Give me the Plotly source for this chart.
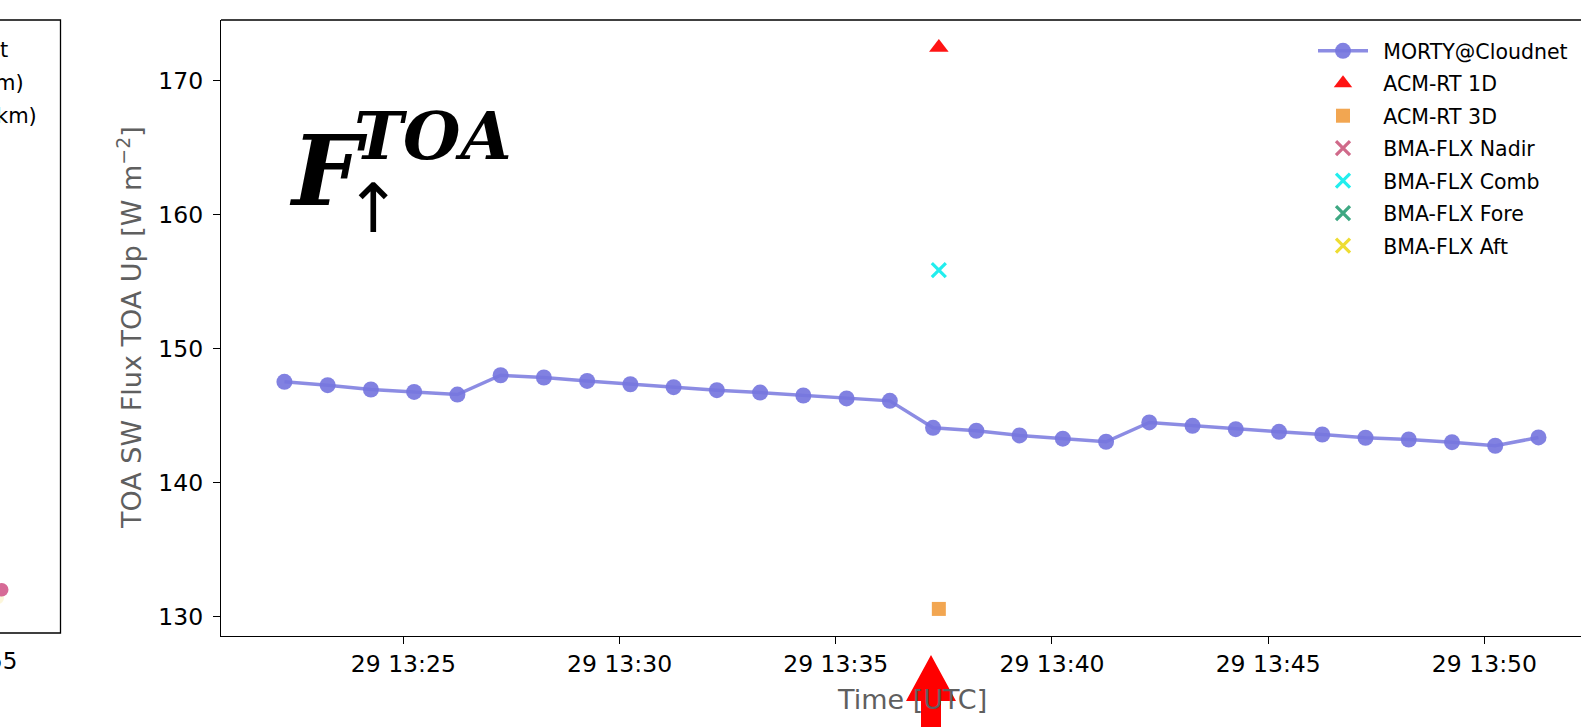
import plotly.graph_objects as go

# ---------------- data ----------------
times = [
    "2024-11-29 13:22:15", "2024-11-29 13:23:15", "2024-11-29 13:24:15", "2024-11-29 13:25:15",
    "2024-11-29 13:26:15", "2024-11-29 13:27:15", "2024-11-29 13:28:15", "2024-11-29 13:29:15",
    "2024-11-29 13:30:15", "2024-11-29 13:31:15", "2024-11-29 13:32:15", "2024-11-29 13:33:15",
    "2024-11-29 13:34:15", "2024-11-29 13:35:15", "2024-11-29 13:36:15", "2024-11-29 13:37:15",
    "2024-11-29 13:38:15", "2024-11-29 13:39:15", "2024-11-29 13:40:15", "2024-11-29 13:41:15",
    "2024-11-29 13:42:15", "2024-11-29 13:43:15", "2024-11-29 13:44:15", "2024-11-29 13:45:15",
    "2024-11-29 13:46:15", "2024-11-29 13:47:15", "2024-11-29 13:48:15", "2024-11-29 13:49:15",
    "2024-11-29 13:50:15", "2024-11-29 13:51:15",
]
morty_flux = [
    147.54, 147.29, 146.97, 146.79, 146.59, 148.03, 147.86, 147.61, 147.36, 147.14,
    146.92, 146.74, 146.52, 146.30, 146.12, 144.11, 143.89, 143.54, 143.30, 143.07,
    144.51, 144.26, 144.01, 143.81, 143.61, 143.37, 143.24, 143.04, 142.77, 143.39,
]
overpass_time = ["2024-11-29 13:37:23"]
acm_rt_1d = [172.48]
acm_rt_3d = [130.60]
bma_flx_nadir = [None]
bma_flx_comb = [155.87]
bma_flx_fore = [None]
bma_flx_aft = [None]

x_range = ["2024-11-29 13:20:47", "2024-11-29 13:52:14"]
y_range = [128.58, 174.53]
y_ticks = [130, 140, 150, 160, 170]

# ---------------- layout helpers (pixel -> paper) ----------------
W, H = 1581, 727
L, T, R, B = 221, 20, 1581, 636


def px(x):
    return (x - L) / (R - L)


def py(y):
    return (B - y) / (B - T)


GRAY = "#5f5f5f"
FONT = "DejaVu Sans"
SP = "\u2002"

fig = go.Figure()

fig.add_trace(go.Scatter(
    x=times, y=morty_flux, mode="lines+markers", name=SP + "MORTY@Cloudnet", legendgroup="g1",
    line=dict(color="rgba(120,120,222,0.85)", width=3.5),
    marker=dict(color="rgba(118,118,222,0.92)", size=16, line=dict(width=0)),
))
fig.add_trace(go.Scatter(
    x=overpass_time, y=acm_rt_1d, mode="markers", name=SP + "ACM-RT 1D", legendgroup="g2",
    marker=dict(symbol="triangle-up", color="rgba(255,0,0,0.92)", size=17, line=dict(width=0)),
))
fig.add_trace(go.Scatter(
    x=overpass_time, y=acm_rt_3d, mode="markers", name=SP + "ACM-RT 3D", legendgroup="g3",
    marker=dict(symbol="square", color="rgba(240,150,50,0.85)", size=14, line=dict(width=0)),
))
fig.add_trace(go.Scatter(
    x=overpass_time, y=bma_flx_nadir, mode="markers", name=SP + "BMA-FLX Nadir", legendgroup="g4",
    marker=dict(symbol="x-thin", color="#d06a8a", size=14, line=dict(width=3.2, color="#d06a8a")),
))
fig.add_trace(go.Scatter(
    x=overpass_time, y=bma_flx_comb, mode="markers", name=SP + "BMA-FLX Comb", legendgroup="g5",
    marker=dict(symbol="x-thin", color="#22eeee", size=14, line=dict(width=3.2, color="#22eeee")),
))
fig.add_trace(go.Scatter(
    x=overpass_time, y=bma_flx_fore, mode="markers", name=SP + "BMA-FLX Fore", legendgroup="g6",
    marker=dict(symbol="x-thin", color="#3ea882", size=14, line=dict(width=3.2, color="#3ea882")),
))
fig.add_trace(go.Scatter(
    x=overpass_time, y=bma_flx_aft, mode="markers", name=SP + "BMA-FLX Aft", legendgroup="g7",
    marker=dict(symbol="x-thin", color="#eedd33", size=14, line=dict(width=3.2, color="#eedd33")),
))

fig.update_xaxes(
    range=x_range, type="date", tickformat="%d %H:%M",
    tick0="2024-11-29 13:25:00", dtick=300000,
    showline=True, linecolor="black", linewidth=1.3,
    ticks="outside", ticklen=7, tickwidth=1.3, tickcolor="black",
    tickfont=dict(family=FONT, size=23.5, color="black"),
    showgrid=False, zeroline=False,
)
fig.update_yaxes(
    range=y_range, tickvals=y_ticks, ticktext=[str(v) for v in y_ticks],
    showline=True, linecolor="black", linewidth=1.3,
    ticks="outside", ticklen=7, tickwidth=1.3, tickcolor="black",
    tickfont=dict(family=FONT, size=23.5, color="black"),
    ticklabelstandoff=5,
    showgrid=False, zeroline=False,
)

shapes = [
    # top spine
    dict(type="line", xref="paper", yref="paper", x0=0, x1=1, y0=1, y1=1,
         line=dict(color="black", width=1.3)),
    # partial left panel frame
    dict(type="rect", xref="paper", yref="paper", x0=px(-20), x1=px(60.5), y0=py(633), y1=py(20),
         line=dict(color="black", width=1.3)),
    # faint glow and pink point of left panel
    dict(type="circle", xref="paper", yref="paper", x0=px(-8), x1=px(4), y0=py(604), y1=py(592),
         fillcolor="rgba(245,230,150,0.35)", line=dict(width=0)),
    dict(type="circle", xref="paper", yref="paper", x0=px(-5), x1=px(8.5), y0=py(596.5), y1=py(583),
         fillcolor="#d66a96", line=dict(width=0)),
    # red arrow
    dict(type="path", xref="paper", yref="paper", layer="above",
         path=("M {:.5f},{:.5f} L {:.5f},{:.5f} L {:.5f},{:.5f} L {:.5f},{:.5f} "
               "L {:.5f},{:.5f} L {:.5f},{:.5f} L {:.5f},{:.5f} Z").format(
             px(931), py(655), px(956), py(701), px(941), py(701), px(941), py(735),
             px(921), py(735), px(921), py(701), px(906), py(701)),
         fillcolor="#ff0000", line=dict(width=0)),
]

annotations = [
    # axis titles
    dict(text="TOA SW Flux TOA Up [W m<sup>−2</sup>]", xref="paper", yref="paper",
         x=px(129), y=py(328), xanchor="center", yanchor="middle", textangle=-90,
         showarrow=False, font=dict(family=FONT, size=27, color=GRAY)),
    dict(text="Time [UTC]", xref="paper", yref="paper",
         x=px(912), y=py(699), xanchor="center", yanchor="middle",
         showarrow=False, font=dict(family=FONT, size=27, color=GRAY)),
    # big symbol
    dict(text="<b><i>F</i></b>", xref="paper", yref="paper",
         x=px(287), y=py(170), xanchor="left", yanchor="middle",
         showarrow=False, font=dict(family="DejaVu Serif", size=98, color="black")),
    dict(text="<b><i>TOA</i></b>", xref="paper", yref="paper",
         x=px(352), y=py(136), xanchor="left", yanchor="middle",
         showarrow=False, font=dict(family="DejaVu Serif", size=66, color="black")),
    dict(text="↑", xref="paper", yref="paper",
         x=px(373), y=py(208), xanchor="center", yanchor="middle",
         showarrow=False, font=dict(family="DejaVu Sans", size=68, color="black")),
    # partial left panel texts
    dict(text="t", xref="paper", yref="paper", x=px(10), y=py(50), xanchor="right", yanchor="middle",
         showarrow=False, font=dict(family=FONT, size=21, color="black")),
    dict(text="m)", xref="paper", yref="paper", x=px(26), y=py(83), xanchor="right", yanchor="middle",
         showarrow=False, font=dict(family=FONT, size=21, color="black")),
    dict(text="km)", xref="paper", yref="paper", x=px(39), y=py(116), xanchor="right", yanchor="middle",
         showarrow=False, font=dict(family=FONT, size=21, color="black")),
    dict(text="55", xref="paper", yref="paper", x=px(19), y=py(661), xanchor="right", yanchor="middle",
         showarrow=False, font=dict(family=FONT, size=23, color="black")),
]

fig.update_layout(
    width=W, height=H,
    margin=dict(l=L, r=W - R, t=T, b=H - B),
    paper_bgcolor="white", plot_bgcolor="white",
    showlegend=True,
    legend=dict(
        x=px(1313), y=py(31), xanchor="left", yanchor="top",
        bgcolor="rgba(255,255,255,0)", borderwidth=0,
        font=dict(family=FONT, size=20.5, color="black"),
        itemwidth=50, tracegroupgap=2.8,
    ),
    shapes=shapes, annotations=annotations,
)

fig.write_html("out.html")
